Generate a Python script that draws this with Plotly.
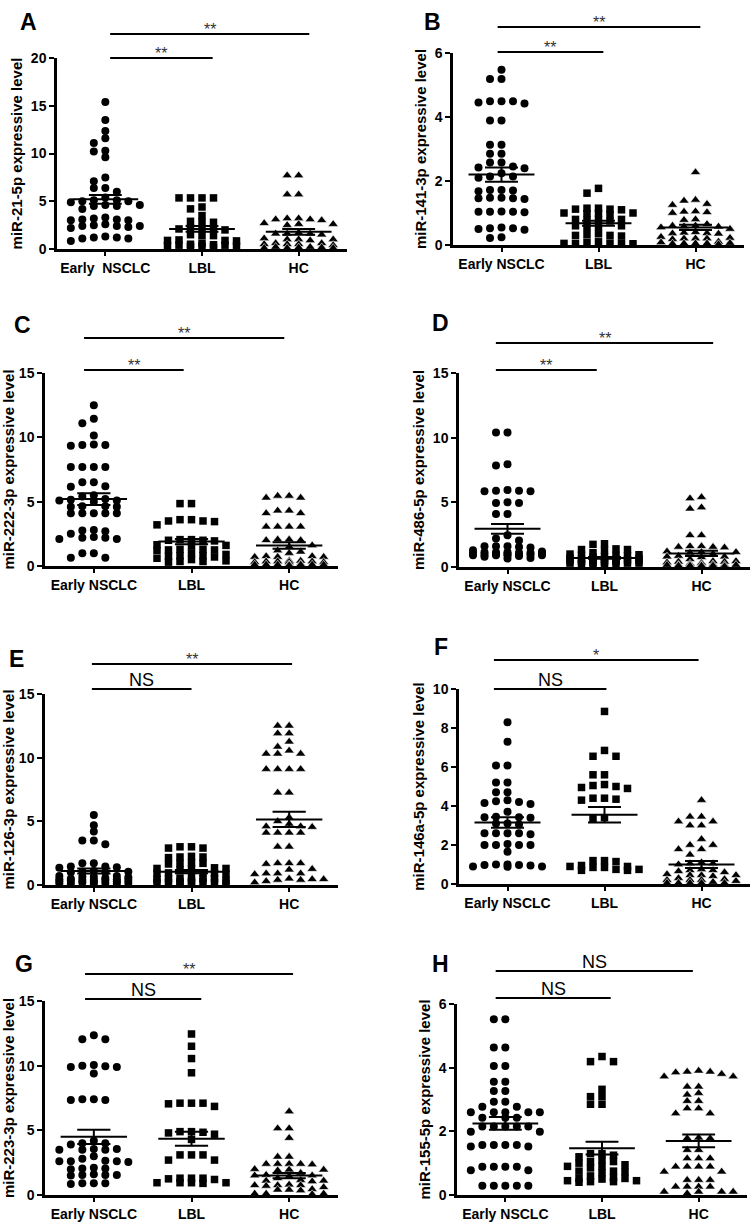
import plotly.graph_objects as go

W, H = 754, 1222

# ---------------- data ----------------
groups = ["Early NSCLC", "LBL", "HC"]
labels_A = ["Early\u00a0 NSCLC", "LBL", "HC"]

A_nsclc = [15.4, 13.5, 12.35, 11.6, 11.1, 10.3, 10.2, 9.6, 7.5, 7.1, 6.4, 6.4, 6.0, 5.4, 5.1, 5.1, 5.0, 5.0, 4.9,
           4.6, 4.6, 4.5, 4.5, 4.2, 3.3, 3.2, 3.1, 3.1, 3.0, 3.0, 2.6, 2.5, 2.4, 2.4, 2.4, 2.3, 2.2, 1.3, 1.2, 1.2, 1.1, 1.1, 0.85]
A_lbl = [5.35, 5.35, 5.35, 5.35, 4.4, 4.2, 3.5, 2.9, 2.8, 2.8, 2.2, 2.1, 2.1, 2.0, 2.1, 1.5, 1.4, 1.4, 0.95, 0.9,
         0.9, 0.85, 0.6, 0.5, 0.45, 0.4, 0.4, 0.35, 0.3, 0.3, 0.25, 0.2]
A_hc = [7.7, 7.7, 5.7, 5.7, 3.2, 3.2, 3.1, 3.1, 3.0, 2.7, 2.6, 2.6, 2.5, 1.7, 1.6, 1.6, 1.6, 1.5, 1.1, 1.0, 1.0, 1.0,
        0.9, 0.6, 0.6, 0.5, 0.5, 0.5, 0.4, 0.2, 0.2, 0.15, 0.15, 0.1, 0.1, 0.1]
A_mean = [5.2, 2.1, 1.8]
A_sem = [0.45, 0.3, 0.3]

B_nsclc = [5.48, 5.19, 5.19, 4.49, 4.49, 4.49, 4.45, 4.42, 3.89, 3.89, 3.13, 3.13, 2.85, 2.85, 2.58, 2.58, 2.45, 2.42,
           2.4, 2.24, 2.14, 2.14, 2.1, 1.72, 1.72, 1.7, 1.68, 1.48, 1.48, 1.46, 1.46, 1.44, 1.05, 1.04, 1.04, 1.04, 1.02,
           0.55, 0.52, 0.52, 0.5, 0.48, 0.24, 0.22]
B_lbl = [1.77, 1.62, 1.15, 1.15, 1.12, 1.12, 1.1, 1.0, 1.0, 0.99, 0.98, 0.95, 0.8, 0.8, 0.78, 0.78, 0.75, 0.6, 0.6,
         0.57, 0.55, 0.35, 0.32, 0.3, 0.3, 0.28, 0.1, 0.08, 0.06, 0.05, 0.05, 0.05, 0.04]
B_hc = [2.27, 1.41, 1.38, 1.28, 1.25, 1.05, 1.04, 1.02, 1.0, 0.8, 0.78, 0.65, 0.6, 0.6, 0.58, 0.57, 0.55, 0.5, 0.4,
        0.38, 0.37, 0.36, 0.35, 0.25, 0.22, 0.2, 0.2, 0.2, 0.18, 0.1, 0.08, 0.06, 0.05, 0.05, 0.05, 0.04, 0.02]
B_mean = [2.2, 0.68, 0.55]
B_sem = [0.22, 0.08, 0.08]

C_nsclc = [12.5, 11.45, 11.1, 10.15, 9.45, 9.4, 9.4, 9.35, 7.7, 7.7, 7.7, 7.7, 6.5, 6.5, 6.2, 6.15, 5.5, 5.4, 5.2,
           5.15, 5.1, 5.1, 5.0, 4.65, 4.65, 4.6, 4.6, 4.1, 4.1, 4.1, 4.1, 4.1, 2.8, 2.75, 2.7, 2.5, 2.25, 2.2, 2.2,
           2.1, 2.1, 1.0, 1.0, 0.65, 0.65]
C_lbl = [4.85, 4.85, 3.6, 3.6, 3.5, 3.5, 3.45, 3.2, 2.05, 2.05, 2.0, 2.0, 1.95, 1.65, 1.6, 1.55, 1.3, 1.3, 1.25,
         1.25, 1.2, 1.0, 0.9, 0.8, 0.8, 0.75, 0.7, 0.6, 0.5, 0.4, 0.35, 0.35, 0.3]
C_hc = [5.45, 5.45, 5.3, 5.3, 4.3, 4.3, 4.1, 4.1, 3.05, 3.05, 3.05, 3.05, 2.05, 2.05, 2.0, 2.0, 1.6, 1.5, 1.2, 1.1,
        1.0, 0.75, 0.75, 0.7, 0.7, 0.7, 0.4, 0.4, 0.35, 0.35, 0.35, 0.3, 0.3, 0.3, 0.15, 0.1, 0.1, 0.1, 0.1, 0.1,
        0.1, 0.1, 0.1, 0.05]
C_mean = [5.2, 1.9, 1.6]
C_sem = [0.45, 0.2, 0.25]

D_nsclc = [10.4, 10.4, 7.95, 7.85, 5.95, 5.9, 5.9, 5.85, 5.85, 5.0, 4.95, 4.95, 4.1, 4.1, 2.45, 2.2, 2.05, 1.6, 1.6,
           1.6, 1.55, 1.5, 1.3, 1.2, 1.15, 1.15, 1.15, 1.1, 1.1, 1.1, 1.05, 1.0, 1.0, 0.95, 0.95, 0.95, 0.9, 0.9, 0.9,
           0.9, 0.85, 0.8, 0.7, 0.65]
D_lbl = [1.8, 1.75, 1.4, 1.35, 1.35, 1.3, 1.1, 1.0, 0.95, 0.9, 0.9, 0.85, 0.8, 0.75, 0.7, 0.65, 0.6, 0.6, 0.55,
         0.55, 0.55, 0.5, 0.5, 0.45, 0.45, 0.4, 0.35, 0.3, 0.3, 0.3, 0.25, 0.25, 0.25, 0.2]
D_hc = [5.4, 5.3, 4.6, 4.5, 2.45, 2.45, 1.6, 1.6, 1.55, 1.55, 1.5, 1.2, 1.15, 1.15, 1.1, 1.0, 0.85, 0.8, 0.8, 0.75,
        0.6, 0.45, 0.45, 0.4, 0.4, 0.35, 0.3, 0.25, 0.2, 0.15, 0.15, 0.15, 0.15, 0.15, 0.15, 0.1, 0.1, 0.1, 0.1,
        0.05]
D_mean = [2.95, 0.7, 1.05]
D_sem = [0.38, 0.07, 0.2]

E_nsclc = [5.5, 4.7, 4.2, 3.5, 3.5, 3.2, 1.7, 1.7, 1.45, 1.45, 1.4, 1.35, 1.1, 1.05, 1.05, 1.0, 1.0, 0.7, 0.7, 0.65,
           0.65, 0.6, 0.55, 0.5, 0.45, 0.45, 0.4, 0.4, 0.4, 0.4, 0.35, 0.3, 0.3, 0.25, 0.2, 0.15, 0.15, 0.1, 0.1,
           0.1, 0.1]
E_lbl = [3.0, 3.0, 2.9, 2.9, 2.25, 2.2, 2.2, 2.15, 1.75, 1.7, 1.7, 1.65, 1.35, 1.3, 1.3, 1.25, 1.2, 0.95, 0.95, 0.9,
         0.9, 0.85, 0.6, 0.55, 0.5, 0.5, 0.5, 0.45, 0.35, 0.3, 0.25, 0.25, 0.2, 0.2, 0.2, 0.15, 0.15, 0.1]
E_hc = [12.5, 12.5, 11.9, 11.9, 11.25, 10.85, 10.55, 10.3, 10.3, 10.3, 9.1, 9.1, 9.1, 9.1, 7.25, 7.25, 5.3, 5.0,
        4.8, 4.6, 4.6, 4.55, 4.1, 4.1, 4.1, 4.1, 3.0, 3.0, 1.7, 1.7, 1.7, 1.65, 1.25, 1.2, 0.9, 0.9, 0.9, 0.85,
        0.5, 0.45, 0.45, 0.4, 0.4, 0.3, 0.2]
E_mean = [1.1, 1.05, 5.15]
E_sem = [0.2, 0.13, 0.6]

F_nsclc = [8.3, 7.3, 6.08, 6.08, 5.2, 5.2, 4.7, 4.7, 4.3, 4.25, 4.2, 4.15, 4.1, 3.7, 3.45, 3.42, 3.42, 3.4, 3.1,
           3.1, 3.05, 2.6, 2.6, 2.6, 2.6, 2.55, 2.05, 2.0, 2.0, 2.0, 2.0, 1.66, 1.0, 1.0, 0.98, 0.98, 0.95, 0.9,
           0.9, 0.88]
F_lbl = [8.85, 6.85, 6.55, 6.55, 5.6, 5.6, 5.1, 5.05, 5.0, 4.95, 4.9, 4.4, 4.4, 4.35, 4.3, 3.4, 3.35, 1.2, 1.2,
         1.15, 0.95, 0.9, 0.9, 0.85, 0.85, 0.75, 0.75, 0.7, 0.7]
F_hc = [4.3, 3.45, 3.45, 3.2, 3.2, 3.0, 3.0, 2.3, 2.0, 2.0, 1.78, 1.78, 1.5, 1.1, 1.05, 1.05, 1.0, 0.75, 0.7, 0.7,
        0.65, 0.6, 0.5, 0.45, 0.45, 0.45, 0.4, 0.3, 0.25, 0.2, 0.2, 0.2, 0.15, 0.1, 0.05, 0.05, 0.05, 0.05, 0.05]
F_mean = [3.15, 3.55, 1.0]
F_sem = [0.27, 0.4, 0.18]

G_nsclc = [12.35, 12.05, 12.05, 10.05, 10.0, 9.95, 9.9, 9.9, 9.4, 7.4, 7.4, 7.35, 7.35, 4.2, 4.0, 4.0, 3.9, 3.55,
           3.55, 3.5, 3.5, 3.5, 3.0, 2.8, 2.65, 2.6, 2.6, 2.6, 2.55, 2.1, 2.05, 2.05, 2.0, 1.6, 1.55, 1.55, 1.55,
           1.5, 0.9, 0.9, 0.9, 0.85]
G_lbl = [12.45, 11.5, 10.55, 9.45, 7.1, 7.1, 7.1, 7.05, 6.85, 4.9, 4.9, 4.85, 4.8, 4.7, 4.3, 3.1, 3.1, 3.1, 2.7,
         2.7, 1.3, 1.3, 1.3, 1.25, 1.2, 0.95, 0.95, 0.95, 0.95, 0.9]
G_hc = [6.45, 5.15, 5.15, 4.4, 2.95, 2.95, 2.4, 2.4, 2.4, 2.4, 2.35, 2.0, 1.95, 1.95, 1.9, 1.7, 1.55, 1.5, 1.5,
        1.45, 1.3, 1.15, 1.1, 1.1, 1.05, 0.8, 0.75, 0.75, 0.75, 0.7, 0.6, 0.45, 0.4, 0.4, 0.35, 0.1, 0.1, 0.1, 0.05]
G_mean = [4.5, 4.35, 1.5]
G_sem = [0.55, 0.55, 0.2]

H_nsclc = [5.52, 5.52, 4.63, 4.63, 4.05, 4.05, 3.56, 3.56, 3.27, 3.27, 2.93, 2.93, 2.77, 2.77, 2.6, 2.6, 2.6, 2.6,
           2.6, 2.43, 2.43, 2.43, 2.15, 2.15, 2.15, 2.15, 2.15, 1.99, 1.99, 1.57, 1.57, 1.57, 1.57, 1.52, 1.52,
           0.89, 0.89, 0.89, 0.89, 0.78, 0.78, 0.29, 0.29, 0.29, 0.29, 0.29]
H_lbl = [4.35, 4.19, 4.19, 3.32, 3.09, 3.09, 2.85, 2.85, 1.3, 1.3, 1.25, 1.2, 1.1, 1.05, 1.05, 1.0, 0.95, 0.9, 0.9,
         0.85, 0.75, 0.75, 0.73, 0.7, 0.6, 0.55, 0.52, 0.52, 0.5, 0.45, 0.45, 0.42, 0.42, 0.4]
H_hc = [3.9, 3.87, 3.87, 3.85, 3.8, 3.72, 3.72, 3.4, 3.4, 3.2, 3.15, 2.95, 2.95, 2.72, 2.72, 2.56, 2.56, 1.8, 1.78,
        1.78, 1.41, 1.41, 1.15, 1.15, 1.15, 0.89, 0.89, 0.89, 0.89, 0.73, 0.73, 0.47, 0.47, 0.47, 0.26, 0.26, 0.26,
        0.26, 0.1, 0.1, 0.1, 0.1, 0.05]
H_mean = [2.25, 1.47, 1.7]
H_sem = [0.2, 0.2, 0.2]

y_titles = ["miR-21-5p expressive level", "miR-141-3p expressive level", "miR-222-3p expressive level",
            "miR-486-5p expressive level", "miR-126-3p expressive level", "miR-146a-5p expressive level",
            "miR-223-3p expressive level", "miR-155-5p expressive level"]
letters = ["A", "B", "C", "D", "E", "F", "G", "H"]
y_tops = [20, 6, 15, 15, 15, 10, 15, 6]
y_steps = [5, 2, 5, 5, 5, 2, 5, 2]
sig_lower = ["**", "**", "**", "**", "NS", "NS", "NS", "NS"]
sig_upper = ["**", "**", "**", "**", "**", "*", "**", "NS"]

# ---------------- layout / style ----------------
# plot boxes in pixels: (left, right, top, bottom)
boxes = [(57, 347, 58, 249), (453, 744, 53, 245), (45, 338, 373, 566), (459, 750, 373, 567),
         (45, 338, 694, 885), (459, 750, 689, 884), (45, 338, 1001, 1195), (457, 747, 1004, 1195)]
letter_pos = [(28, 22), (432, 22), (22, 325), (440, 323), (16, 659), (441, 647), (24, 964), (440, 964)]
# bar extents in category units, and pixel offsets above the plot top
bar_lo_x = [(0.05, 1.11), (-0.04, 1.05), (-0.1, 0.92), (-0.12, 0.92), (-0.02, 1.0), (-0.14, 1.02), (-0.09, 1.1), (-0.1, 1.09)]
bar_hi_x = [(0.05, 2.11), (-0.04, 2.05), (-0.1, 1.95), (-0.12, 2.12), (-0.02, 2.03), (-0.14, 1.97), (-0.09, 2.04), (-0.1, 1.94)]
bar_lo_off = [0, 1, 3, 3, 5, 0, 2, 6]
bar_hi_off = [24, 26, 35, 30, 30, 29, 27, 33]

panels = [
    (A_nsclc, A_lbl, A_hc, A_mean, A_sem),
    (B_nsclc, B_lbl, B_hc, B_mean, B_sem),
    (C_nsclc, C_lbl, C_hc, C_mean, C_sem),
    (D_nsclc, D_lbl, D_hc, D_mean, D_sem),
    (E_nsclc, E_lbl, E_hc, E_mean, E_sem),
    (F_nsclc, F_lbl, F_hc, F_mean, F_sem),
    (G_nsclc, G_lbl, G_hc, G_mean, G_sem),
    (H_nsclc, H_lbl, H_hc, H_mean, H_sem),
]

symbols = ["circle", "square", "triangle-up"]
msizes = [8, 7.5, 9]
FONT = "Liberation Sans, Arial, sans-serif"
SLOT_PX = 11.5
DIAM_PX = 6.3
MEAN_HW = 0.34
SEM_HW = 0.17


def swarm_offsets(vals, px_per_unit_y, px_per_unit_x):
    """GraphPad-like column dot layout: discrete slots, centre first."""
    order = sorted(range(len(vals)), key=lambda i: -vals[i])
    slots = [0, -1, 1, -2, 2, -3, 3]
    placed = {s: [] for s in slots}
    offs = [0.0] * len(vals)
    for i in order:
        v = vals[i]
        best, best_d = None, -1
        chosen = None
        for s in slots:
            d = min([abs(v - u) * px_per_unit_y for u in placed[s]], default=1e9)
            if d >= DIAM_PX:
                chosen = s
                break
            if d > best_d:
                best, best_d = s, d
        if chosen is None:
            chosen = best
        placed[chosen].append(v)
        offs[i] = chosen * SLOT_PX / px_per_unit_x
    return offs


fig = go.Figure()
annotations = []
shapes = []

for k, (g0, g1, g2, means, sems) in enumerate(panels):
    l, r, t, b = boxes[k]
    xa = "x" if k == 0 else f"x{k+1}"
    ya = "y" if k == 0 else f"y{k+1}"
    ppu_x = (r - l) / 3.0
    ppu_y = (b - t) / y_tops[k]
    for gi, vals in enumerate([g0, g1, g2]):
        offs = swarm_offsets(vals, ppu_y, ppu_x)
        fig.add_trace(go.Scatter(
            x=[gi + o for o in offs], y=vals, mode="markers", xaxis=xa, yaxis=ya,
            marker=dict(symbol=symbols[gi], size=msizes[gi], color="black",
                        line=dict(color="white", width=0.6 if gi == 2 else 0)),
            cliponaxis=False, showlegend=False, hoverinfo="y"))
        m, s = means[gi], sems[gi]
        lx = [gi - MEAN_HW, gi + MEAN_HW, None, gi - SEM_HW, gi + SEM_HW, None,
              gi - SEM_HW, gi + SEM_HW, None, gi, gi]
        ly = [m, m, None, m + s, m + s, None, m - s, m - s, None, m - s, m + s]
        fig.add_trace(go.Scatter(x=lx, y=ly, mode="lines", xaxis=xa, yaxis=ya,
                                 line=dict(color="black", width=2), cliponaxis=False,
                                 showlegend=False, hoverinfo="skip"))

    xdom = [l / W, r / W]
    ydom = [1 - b / H, 1 - t / H]
    ticktext = labels_A if k == 0 else groups
    fig.layout[("xaxis" if k == 0 else f"xaxis{k+1}")] = dict(
        domain=xdom, range=[-0.5, 2.5], anchor=ya, tickvals=[0, 1, 2], ticktext=ticktext,
        showline=True, linewidth=2.5, linecolor="black", ticks="outside", ticklen=4, tickwidth=2,
        tickcolor="black", showgrid=False, zeroline=False, automargin=False,
        tickfont=dict(family=FONT, size=14, color="black", weight="bold"))
    fig.layout[("yaxis" if k == 0 else f"yaxis{k+1}")] = dict(
        domain=ydom, range=[0, y_tops[k]], anchor=xa,
        tickvals=list(range(0, y_tops[k] + 1, y_steps[k])),
        showline=True, linewidth=2.5, linecolor="black", ticks="outside", ticklen=5, tickwidth=2,
        tickcolor="black", showgrid=False, zeroline=False, automargin=False,
        tickfont=dict(family=FONT, size=14, color="black", weight="bold"),
        title=dict(text=y_titles[k], standoff=5,
                   font=dict(family=FONT, size=15, color="black", weight="bold")))

    def xp(xd):
        return (l + (xd + 0.5) / 3.0 * (r - l)) / W

    for (x0, x1), off, txt in [(bar_lo_x[k], bar_lo_off[k], sig_lower[k]),
                               (bar_hi_x[k], bar_hi_off[k], sig_upper[k])]:
        yp = 1 - (t - off) / H
        shapes.append(dict(type="line", xref="paper", yref="paper", x0=xp(x0), x1=xp(x1), y0=yp, y1=yp,
                           line=dict(color="black", width=2)))
        if txt == "NS":
            annotations.append(dict(text="NS", xref="paper", yref="paper", x=xp((x0 + x1) / 2), y=yp,
                                    xanchor="center", yanchor="bottom", yshift=-3, showarrow=False,
                                    font=dict(family=FONT, size=18, color="black")))
        else:
            annotations.append(dict(text=txt, xref="paper", yref="paper", x=xp((x0 + x1) / 2), y=yp,
                                    xanchor="center", yanchor="bottom", yshift=-6, showarrow=False,
                                    font=dict(family=FONT, size=16, color="#333")))
    lx_, ly_ = letter_pos[k]
    annotations.append(dict(text=letters[k], xref="paper", yref="paper", x=lx_ / W, y=1 - ly_ / H,
                            xanchor="center", yanchor="middle", showarrow=False,
                            font=dict(family=FONT, size=23, color="black", weight="bold")))

fig.update_layout(width=W, height=H, margin=dict(l=0, r=0, t=0, b=0, autoexpand=False),
                  paper_bgcolor="white", plot_bgcolor="white",
                  annotations=annotations, shapes=shapes, showlegend=False)

fig.write_html("out.html", config={"displayModeBar": False},
               post_script="document.body.style.margin='0';document.body.style.overflow='hidden';")
